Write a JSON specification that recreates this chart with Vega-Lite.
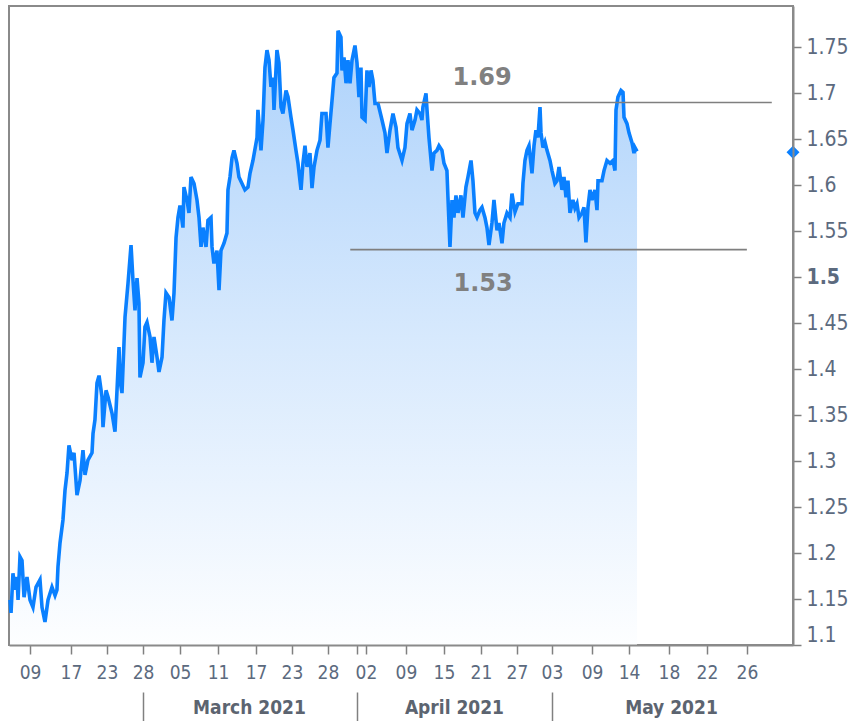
{
  "$schema": "https://vega.github.io/schema/vega-lite/v6.json",
  "autosize": {"type": "none"},
  "padding": {"left": 9, "top": 6, "right": 63, "bottom": 76},
  "width": 784,
  "height": 639,
  "background": "white",
  "config": {
    "view": {"stroke": "#8a8a8a", "strokeWidth": 2},
    "font": "DejaVu Sans Condensed, DejaVu Sans",
    "axis": {"grid": false, "labelFont": "DejaVu Sans Condensed, DejaVu Sans"}
  },
  "datasets": {
    "yield": [
      {"t":0.11,"v":1.149},{"t":0.22,"v":1.135},{"t":0.43,"v":1.178},{"t":0.65,"v":1.160},{"t":0.87,"v":1.174},{"t":0.98,"v":1.149},{"t":1.19,"v":1.196},{"t":1.41,"v":1.192},{"t":1.63,"v":1.152},{"t":1.95,"v":1.174},{"t":2.28,"v":1.149},{"t":2.60,"v":1.141},{"t":2.93,"v":1.163},{"t":3.36,"v":1.171},{"t":3.58,"v":1.141},{"t":3.90,"v":1.125},{"t":4.23,"v":1.149},{"t":4.66,"v":1.163},{"t":4.99,"v":1.154},{"t":5.20,"v":1.160},{"t":5.31,"v":1.185},{"t":5.53,"v":1.211},{"t":5.85,"v":1.236},{"t":6.07,"v":1.268},{"t":6.29,"v":1.287},{"t":6.50,"v":1.317},{"t":6.83,"v":1.301},{"t":7.05,"v":1.309},{"t":7.37,"v":1.263},{"t":7.70,"v":1.279},{"t":8.02,"v":1.312},{"t":8.24,"v":1.285},{"t":8.56,"v":1.301},{"t":9.00,"v":1.309},{"t":9.11,"v":1.330},{"t":9.32,"v":1.345},{"t":9.54,"v":1.385},{"t":9.76,"v":1.393},{"t":10.08,"v":1.370},{"t":10.19,"v":1.337},{"t":10.52,"v":1.377},{"t":10.73,"v":1.370},{"t":11.17,"v":1.352},{"t":11.49,"v":1.332},{"t":11.71,"v":1.377},{"t":11.93,"v":1.424},{"t":12.03,"v":1.388},{"t":12.25,"v":1.374},{"t":12.58,"v":1.457},{"t":12.90,"v":1.493},{"t":13.23,"v":1.535},{"t":13.44,"v":1.497},{"t":13.66,"v":1.464},{"t":13.88,"v":1.499},{"t":14.09,"v":1.472},{"t":14.20,"v":1.391},{"t":14.53,"v":1.407},{"t":14.74,"v":1.446},{"t":14.96,"v":1.451},{"t":15.29,"v":1.435},{"t":15.50,"v":1.407},{"t":15.72,"v":1.435},{"t":16.05,"v":1.413},{"t":16.26,"v":1.397},{"t":16.59,"v":1.413},{"t":16.80,"v":1.453},{"t":17.02,"v":1.483},{"t":17.35,"v":1.478},{"t":17.67,"v":1.453},{"t":17.89,"v":1.483},{"t":18.11,"v":1.543},{"t":18.32,"v":1.565},{"t":18.54,"v":1.578},{"t":18.86,"v":1.554},{"t":18.97,"v":1.598},{"t":19.30,"v":1.584},{"t":19.51,"v":1.570},{"t":19.73,"v":1.609},{"t":20.06,"v":1.602},{"t":20.38,"v":1.584},{"t":20.60,"v":1.565},{"t":20.82,"v":1.533},{"t":21.03,"v":1.554},{"t":21.36,"v":1.533},{"t":21.57,"v":1.562},{"t":21.90,"v":1.565},{"t":22.01,"v":1.533},{"t":22.22,"v":1.515},{"t":22.55,"v":1.529},{"t":22.77,"v":1.486},{"t":22.98,"v":1.529},{"t":23.31,"v":1.537},{"t":23.63,"v":1.548},{"t":23.74,"v":1.595},{"t":23.96,"v":1.609},{"t":24.18,"v":1.630},{"t":24.39,"v":1.638},{"t":24.72,"v":1.624},{"t":24.93,"v":1.609},{"t":25.26,"v":1.602},{"t":25.58,"v":1.595},{"t":25.91,"v":1.598},{"t":26.13,"v":1.613},{"t":26.45,"v":1.627},{"t":26.89,"v":1.652},{"t":26.99,"v":1.682},{"t":27.32,"v":1.638},{"t":27.54,"v":1.671},{"t":27.75,"v":1.728},{"t":27.97,"v":1.747},{"t":28.19,"v":1.736},{"t":28.40,"v":1.707},{"t":28.62,"v":1.717},{"t":28.73,"v":1.682},{"t":29.05,"v":1.747},{"t":29.27,"v":1.733},{"t":29.49,"v":1.685},{"t":29.70,"v":1.678},{"t":30.03,"v":1.703},{"t":30.25,"v":1.696},{"t":30.57,"v":1.674},{"t":30.79,"v":1.660},{"t":31.11,"v":1.638},{"t":31.33,"v":1.624},{"t":31.66,"v":1.595},{"t":31.87,"v":1.624},{"t":32.09,"v":1.643},{"t":32.31,"v":1.620},{"t":32.63,"v":1.635},{"t":32.85,"v":1.597},{"t":33.07,"v":1.620},{"t":33.39,"v":1.638},{"t":33.72,"v":1.649},{"t":33.93,"v":1.678},{"t":34.37,"v":1.678},{"t":34.58,"v":1.641},{"t":34.80,"v":1.667},{"t":35.02,"v":1.692},{"t":35.23,"v":1.717},{"t":35.56,"v":1.722},{"t":35.67,"v":1.768},{"t":35.99,"v":1.761},{"t":36.10,"v":1.725},{"t":36.32,"v":1.739},{"t":36.54,"v":1.711},{"t":36.75,"v":1.736},{"t":36.97,"v":1.711},{"t":37.19,"v":1.736},{"t":37.51,"v":1.752},{"t":37.73,"v":1.733},{"t":37.94,"v":1.696},{"t":38.16,"v":1.728},{"t":38.27,"v":1.674},{"t":38.60,"v":1.671},{"t":38.81,"v":1.725},{"t":39.03,"v":1.707},{"t":39.25,"v":1.725},{"t":39.46,"v":1.714},{"t":39.68,"v":1.689},{"t":40.01,"v":1.689},{"t":40.44,"v":1.671},{"t":40.76,"v":1.657},{"t":40.98,"v":1.635},{"t":41.31,"v":1.660},{"t":41.63,"v":1.678},{"t":41.96,"v":1.663},{"t":42.17,"v":1.641},{"t":42.61,"v":1.627},{"t":42.93,"v":1.641},{"t":43.15,"v":1.667},{"t":43.47,"v":1.678},{"t":43.69,"v":1.660},{"t":44.02,"v":1.671},{"t":44.23,"v":1.682},{"t":44.56,"v":1.678},{"t":44.77,"v":1.671},{"t":44.88,"v":1.685},{"t":45.21,"v":1.700},{"t":45.32,"v":1.682},{"t":45.53,"v":1.652},{"t":45.86,"v":1.616},{"t":46.08,"v":1.635},{"t":46.40,"v":1.638},{"t":46.62,"v":1.643},{"t":46.94,"v":1.638},{"t":47.16,"v":1.624},{"t":47.48,"v":1.616},{"t":47.59,"v":1.587},{"t":47.81,"v":1.533},{"t":48.03,"v":1.584},{"t":48.24,"v":1.565},{"t":48.46,"v":1.589},{"t":48.68,"v":1.570},{"t":49.00,"v":1.589},{"t":49.22,"v":1.565},{"t":49.54,"v":1.598},{"t":49.76,"v":1.609},{"t":50.09,"v":1.627},{"t":50.30,"v":1.605},{"t":50.52,"v":1.570},{"t":50.74,"v":1.565},{"t":51.06,"v":1.573},{"t":51.28,"v":1.576},{"t":51.60,"v":1.565},{"t":51.82,"v":1.554},{"t":52.04,"v":1.535},{"t":52.36,"v":1.559},{"t":52.58,"v":1.584},{"t":52.91,"v":1.551},{"t":53.12,"v":1.559},{"t":53.45,"v":1.537},{"t":53.66,"v":1.559},{"t":53.99,"v":1.570},{"t":54.32,"v":1.565},{"t":54.53,"v":1.591},{"t":54.86,"v":1.571},{"t":55.18,"v":1.580},{"t":55.62,"v":1.580},{"t":55.72,"v":1.602},{"t":55.94,"v":1.627},{"t":56.16,"v":1.638},{"t":56.38,"v":1.643},{"t":56.70,"v":1.613},{"t":56.92,"v":1.643},{"t":57.13,"v":1.660},{"t":57.35,"v":1.652},{"t":57.57,"v":1.685},{"t":57.68,"v":1.657},{"t":57.89,"v":1.641},{"t":58.11,"v":1.647},{"t":58.33,"v":1.638},{"t":58.65,"v":1.627},{"t":58.87,"v":1.616},{"t":59.19,"v":1.602},{"t":59.41,"v":1.605},{"t":59.63,"v":1.620},{"t":59.95,"v":1.595},{"t":60.17,"v":1.609},{"t":60.39,"v":1.587},{"t":60.60,"v":1.605},{"t":60.82,"v":1.570},{"t":61.14,"v":1.584},{"t":61.36,"v":1.575},{"t":61.58,"v":1.580},{"t":61.80,"v":1.565},{"t":62.12,"v":1.570},{"t":62.34,"v":1.576},{"t":62.55,"v":1.538},{"t":62.77,"v":1.576},{"t":62.99,"v":1.595},{"t":63.21,"v":1.584},{"t":63.53,"v":1.595},{"t":63.75,"v":1.573},{"t":63.86,"v":1.605},{"t":64.29,"v":1.605},{"t":64.51,"v":1.616},{"t":64.83,"v":1.627},{"t":65.16,"v":1.624},{"t":65.48,"v":1.627},{"t":65.70,"v":1.616},{"t":65.81,"v":1.682},{"t":66.02,"v":1.696},{"t":66.35,"v":1.703},{"t":66.57,"v":1.701},{"t":66.68,"v":1.674},{"t":67.00,"v":1.667},{"t":67.22,"v":1.657},{"t":67.55,"v":1.646},{"t":67.76,"v":1.635},{"t":67.87,"v":1.641},{"t":68.09,"v":1.637}
    ],
    "levels": [
      {"level": 1.69, "t0": 40.0, "t1": 82.7, "label": "1.69"},
      {"level": 1.53, "t0": 37.0, "t1": 80.0, "label": "1.53"}
    ],
    "last": [{"v": 1.636}]
  },
  "resolve": {"axis": {"x": "independent"}},
  "layer": [
    {
      "data": {"name": "yield"},
      "mark": {
        "type": "area",
        "line": false,
        "color": {
          "gradient": "linear", "x1": 0, "y1": 0, "x2": 0, "y2": 1,
          "stops": [
            {"offset": 0, "color": "#add2fb"},
            {"offset": 0.5, "color": "#d7e9fd"},
            {"offset": 1, "color": "#fdfeff"}
          ]
        }
      },
      "encoding": {
        "x": {
          "field": "t", "type": "quantitative",
          "scale": {"domain": [0, 85], "nice": false, "zero": false},
          "axis": {
            "title": null, "orient": "bottom", "zindex": 2,
            "values": [2.28, 6.72, 10.62, 14.53, 18.54, 22.66, 26.78, 30.68, 34.58, 37.73, 38.70, 43.04, 47.16, 51.17, 55.07, 58.87, 63.21, 67.22, 71.55, 75.67, 80.01],
            "labelExpr": "datum.value < 4 ? '09' : datum.value < 8 ? '17' : datum.value < 12 ? '23' : datum.value < 16 ? '28' : datum.value < 20 ? '05' : datum.value < 24 ? '11' : datum.value < 28 ? '17' : datum.value < 32 ? '23' : datum.value < 36 ? '28' : datum.value < 38 ? '' : datum.value < 40 ? '02' : datum.value < 45 ? '09' : datum.value < 49 ? '15' : datum.value < 53 ? '21' : datum.value < 57 ? '27' : datum.value < 61 ? '03' : datum.value < 65 ? '09' : datum.value < 69 ? '14' : datum.value < 73 ? '18' : datum.value < 78 ? '22' : '26'",
            "tickSize": 9, "tickColor": "#808080", "tickWidth": 1.5,
            "domainColor": "#8a8a8a", "domainWidth": 2,
            "labelPadding": 9, "labelFontSize": 19, "labelColor": "#5c6a7e",
            "labelOverlap": false, "labelFlush": false
          }
        },
        "y": {
          "field": "v", "type": "quantitative",
          "scale": {"domain": [1.1, 1.795], "nice": false, "zero": false},
          "axis": {
            "title": null, "orient": "right", "zindex": 2,
            "values": [1.1, 1.15, 1.2, 1.25, 1.3, 1.35, 1.4, 1.45, 1.5, 1.55, 1.6, 1.65, 1.7, 1.75],
            "format": "~g",
            "tickSize": 8, "tickColor": "#808080", "tickWidth": 1.5,
            "domainColor": "#8a8a8a", "domainWidth": 2,
            "labelPadding": 5, "labelFontSize": 21, "labelColor": "#5c6a7e",
            "labelFontWeight": {"condition": {"test": "abs(datum.value - 1.5) < 0.001", "value": "bold"}, "value": "normal"},
            "labelOverlap": false, "labelFlush": true
          }
        },
        "y2": {"datum": 1.1}
      }
    },
    {
      "data": {"name": "yield"},
      "mark": {"type": "line", "color": "#0a80ff", "strokeWidth": 3.6, "strokeJoin": "miter"},
      "encoding": {
        "x": {
          "field": "t", "type": "quantitative",
          "axis": {
            "title": null, "orient": "bottom", "values": [14.53, 37.73, 58.87],
            "labels": false, "domain": false, "ticks": true,
            "tickSize": 30, "offset": 47, "tickColor": "#808080", "tickWidth": 1.5
          }
        },
        "y": {"field": "v", "type": "quantitative", "title": null}
      }
    },
    {
      "data": {"name": "levels"},
      "mark": {"type": "rule", "color": "#7f7f7f", "strokeWidth": 1.6},
      "encoding": {
        "x": {
          "field": "t0", "type": "quantitative",
          "axis": {
            "title": null, "orient": "bottom", "values": [26.02, 48.24, 71.77],
            "labelExpr": "datum.value < 40 ? 'March 2021' : datum.value < 60 ? 'April 2021' : 'May 2021'",
            "ticks": false, "domain": false, "tickSize": 0,
            "offset": 48, "labelPadding": 5,
            "labelFontSize": 19, "labelFontWeight": "bold", "labelColor": "#5c6470",
            "labelOverlap": false, "labelFlush": false
          }
        },
        "x2": {"field": "t1"},
        "y": {"field": "level", "type": "quantitative", "title": null}
      }
    },
    {
      "data": {"name": "levels"},
      "transform": [{"filter": "datum.level > 1.6"}],
      "mark": {"type": "text", "fontSize": 24, "fontWeight": "bold", "font": "DejaVu Sans", "color": "#808080", "baseline": "middle", "align": "center", "dy": -25},
      "encoding": {
        "x": {"datum": 51.3, "type": "quantitative", "axis": null},
        "y": {"field": "level", "type": "quantitative", "title": null},
        "text": {"field": "label"}
      }
    },
    {
      "data": {"name": "levels"},
      "transform": [{"filter": "datum.level < 1.6"}],
      "mark": {"type": "text", "fontSize": 24, "fontWeight": "bold", "font": "DejaVu Sans", "color": "#808080", "baseline": "middle", "align": "center", "dy": 34},
      "encoding": {
        "x": {"datum": 51.4, "type": "quantitative", "axis": null},
        "y": {"field": "level", "type": "quantitative", "title": null},
        "text": {"field": "label"}
      }
    },
    {
      "data": {"name": "last"},
      "mark": {"type": "point", "shape": "diamond", "filled": true, "color": "#0a80ff", "opacity": 1, "size": 170},
      "encoding": {
        "x": {"datum": 85, "type": "quantitative", "axis": null},
        "y": {"field": "v", "type": "quantitative", "title": null}
      }
    }
  ]
}
